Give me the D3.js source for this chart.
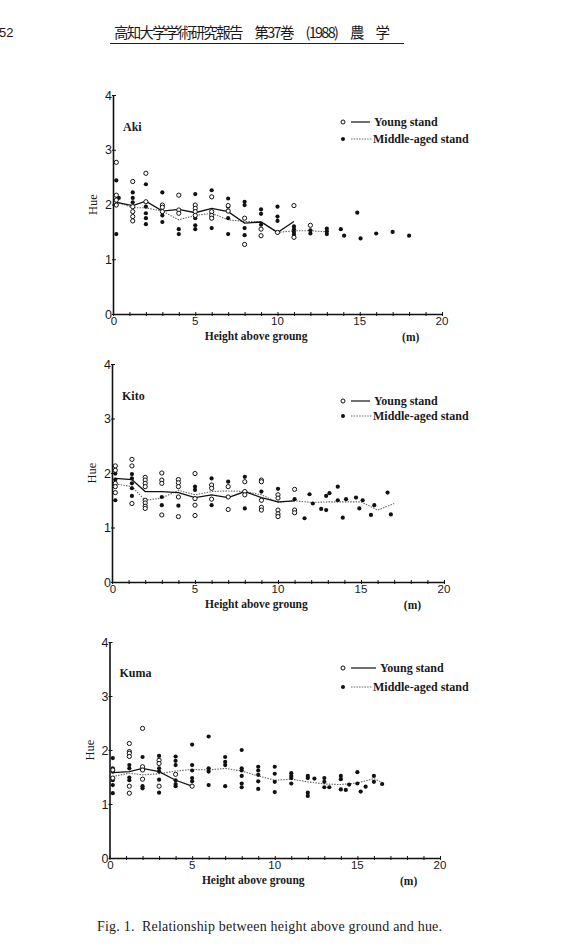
<!DOCTYPE html>
<html><head><meta charset="utf-8">
<script src="https://cdn.jsdelivr.net/npm/d3@7"></script>
<style>
body{margin:0;background:#fff;}
svg{display:block;}
text{fill:#1a1a1a;white-space:pre;}
</style></head>
<body>
<svg id="c" width="568" height="949"></svg>
<script>
// ---------- DATA ----------
const xTicks = [0,5,10,15,20];
const yTicks = [0,1,2,3,4];
const legendLabels = ["Young stand","Middle-aged stand"];
const panelNames = ["Aki","Kito","Kuma"];

// Aki
const akiYoung = [[0.2,2.77],[0.2,2.17],[0.2,2.08],[0.2,1.99],
 [1.2,2.42],[1.2,1.96],[1.2,1.87],[1.2,1.78],[1.2,1.70],
 [2,2.57],[2,2.05],[3,1.99],[3,1.95],[3,1.87],[4,2.17],[4,1.90],[4,1.84],
 [5,1.99],[5,1.93],[5,1.87],[5,1.80],[6,2.14],[6,1.87],[6,1.80],[6,1.75],
 [7,1.98],[7,1.88],[8,1.75],[8,1.27],[9,1.55],[9,1.43],[10,1.49],[11,1.98],[11,1.40],[12,1.62]];
const akiMiddle = [[0.2,2.44],[0.35,2.12],[0.2,2.00],[0.2,1.46],
 [1.2,2.22],[1.2,2.12],[1.2,2.04],[2,2.37],[2,1.96],[2,1.84],[2,1.75],[2,1.64],
 [3,2.22],[3,1.80],[3,1.68],[4,1.55],[4,1.46],[5,2.19],[5,1.75],[5,1.62],[5,1.55],
 [6,2.26],[6,1.57],[7,2.11],[7,1.96],[7,1.75],[7,1.46],[8,2.05],[8,1.99],[8,1.57],[8,1.44],
 [9,1.91],[9,1.83],[9,1.63],[10,1.96],[10,1.78],[10,1.70],[11,1.60],[11,1.55],[11,1.50],[11,1.45],
 [12,1.53],[12,1.47],[13,1.56],[13,1.51],[13,1.46],[13.85,1.55],[14.05,1.43],[14.85,1.85],
 [15.05,1.38],[16,1.47],[17,1.50],[18,1.43]];
const akiYoungMeanH = [0.2,1.2,2,3,4,5,6,7,8,9,10,11];
const akiYoungMean  = [2.04,1.98,2.06,1.88,1.91,1.85,1.93,1.87,1.66,1.68,1.49,1.69];
const akiMiddleMeanH = [0.2,1.2,2,3,4,5,6,7,8,9,10,11,12,13];
const akiMiddleMean  = [2.05,1.94,1.94,1.88,1.72,1.80,1.84,1.72,1.69,1.69,1.49,1.52,1.52,1.50];

// Kito
const kitoYoung = [[0.2,2.13],[0.2,2.05],[0.2,1.81],[0.2,1.75],[0.2,1.64],
 [1.2,2.25],[1.2,2.13],[1.2,1.44],
 [2,1.92],[2,1.87],[2,1.81],[2,1.75],[2,1.50],[2,1.45],[2,1.39],[2,1.35],
 [3,2.00],[3,1.87],[3,1.81],[3,1.23],[4,1.88],[4,1.82],[4,1.75],[4,1.56],[4,1.20],
 [5,1.99],[5,1.53],[5,1.41],[5,1.22],[6,1.78],[6,1.72],[6,1.52],[7,1.75],[7,1.56],[7,1.33],
 [8,1.84],[8,1.66],[8,1.60],[9,1.87],[9,1.84],[9,1.50],[9,1.37],[9,1.32],
 [10,1.60],[10,1.54],[10,1.32],[10,1.25],[10,1.20],[11,1.70],[11,1.32],[11,1.27]];
const kitoMiddle = [[0.2,1.99],[0.2,1.88],[0.2,1.50],
 [1.2,1.98],[1.2,1.90],[1.2,1.81],[1.2,1.72],[1.2,1.58],[3,1.56],[3,1.41],[4,1.40],
 [5,1.75],[5,1.69],[6,1.90],[6,1.41],[7,1.84],[8,1.93],[8,1.35],[9,1.66],[10,1.71],[11,1.52],
 [11.6,1.17],[11.9,1.61],[12.1,1.44],[12.6,1.34],[12.9,1.32],[12.9,1.58],[13.1,1.63],
 [13.6,1.75],[13.6,1.50],[13.9,1.18],[14.1,1.52],[14.7,1.55],[14.9,1.35],[15.1,1.50],
 [15.6,1.23],[15.8,1.41],[16.6,1.64],[16.8,1.24]];
const kitoYoungMeanH = [0.2,1.2,2,3,4,5,6,7,8,9,10,11];
const kitoYoungMean  = [1.90,1.88,1.66,1.66,1.64,1.55,1.60,1.55,1.66,1.55,1.47,1.49];
const kitoMiddleMeanH = [0.2,1.2,2,3,4,5,6,7,8,9,10,11,12,13,14,15,16,17];
const kitoMiddleMean  = [1.80,1.75,1.50,1.54,1.68,1.60,1.66,1.67,1.66,1.60,1.46,1.49,1.46,1.47,1.47,1.47,1.32,1.44];

// Kuma
const kumaYoung = [[0.2,1.63],[0.2,1.48],
 [1.2,2.12],[1.2,1.97],[1.2,1.94],[1.2,1.88],[1.2,1.33],[1.2,1.20],
 [2,2.40],[2,1.69],[2,1.63],[2,1.46],[3,1.81],[3,1.75],[3,1.33],[4,1.55],[5,1.33]];
const kumaMiddle = [[0.2,1.85],[0.2,1.66],[0.2,1.60],[0.2,1.44],[0.2,1.35],[0.2,1.20],
 [1.2,1.72],[1.2,1.66],[1.2,1.49],[1.2,1.44],[2,1.87],[2,1.33],[2,1.29],
 [3,1.89],[3,1.66],[3,1.60],[3,1.45],[3,1.21],[4,1.88],[4,1.80],[4,1.72],[4,1.44],[4,1.37],[4,1.33],
 [5,2.10],[5,1.72],[5,1.62],[5,1.48],[5,1.42],[6,2.25],[6,1.66],[6,1.60],[6,1.35],
 [7,1.87],[7,1.78],[7,1.72],[7,1.33],[8,2.00],[8,1.66],[8,1.62],[8,1.52],[8,1.38],[8,1.31],
 [9,1.69],[9,1.62],[9,1.54],[9,1.42],[9,1.28],[10,1.69],[10,1.56],[10,1.41],[10,1.22],
 [11,1.57],[11,1.52],[11,1.48],[11,1.38],[12,1.52],[12,1.48],[12,1.21],[12,1.15],[12.4,1.47],
 [13,1.48],[13,1.41],[13,1.31],[13.3,1.31],[14,1.52],[14,1.46],[14,1.27],[14.3,1.26],[14.5,1.36],
 [15,1.59],[15,1.38],[15.2,1.23],[15.5,1.32],[16,1.52],[16,1.41],[16.5,1.37]];
const kumaYoungMeanH = [0.2,1.2,2,3,4,5];
const kumaYoungMean  = [1.58,1.60,1.66,1.60,1.44,1.33];
const kumaMiddleMeanH = [0.2,1.2,2,3,4,5,6,7,8,9,10,11,12,13,14,15,16,16.5];
const kumaMiddleMean  = [1.51,1.57,1.54,1.56,1.61,1.64,1.63,1.66,1.61,1.52,1.44,1.46,1.41,1.37,1.36,1.39,1.47,1.40];

// ---------- DRAW ----------
const svg = d3.select("#c");
const serif = "'Liberation Serif','DejaVu Serif',serif";
const sans = "'Liberation Sans','DejaVu Sans',sans-serif";

// header
svg.append("text").attr("x",-1).attr("y",37).attr("font-family",sans).attr("font-size",13).text("52");
svg.append("text").attr("x",114).attr("y",38).attr("font-family","'Noto Sans CJK JP',sans-serif")
  .attr("font-size",14.5).attr("textLength",276).text("高知大学学術研究報告　第37巻　(1988)　農　学");
svg.append("line").attr("x1",110).attr("x2",404).attr("y1",43.5).attr("y2",43.5).attr("stroke","#222").attr("stroke-width",1.2);

const panels = [
 {name:panelNames[0], young:akiYoung, middle:akiMiddle, ymH:akiYoungMeanH, ym:akiYoungMean, mmH:akiMiddleMeanH, mm:akiMiddleMean,
  x0:113, x1:442, y0:314, y1:95, leg:[343,122,139], lx:374},
 {name:panelNames[1], young:kitoYoung, middle:kitoMiddle, ymH:kitoYoungMeanH, ym:kitoYoungMean, mmH:kitoMiddleMeanH, mm:kitoMiddleMean,
  x0:112, x1:444, y0:582, y1:364, leg:[343,401,416], lx:374},
 {name:panelNames[2], young:kumaYoung, middle:kumaMiddle, ymH:kumaYoungMeanH, ym:kumaYoungMean, mmH:kumaMiddleMeanH, mm:kumaMiddleMean,
  x0:109.5, x1:440, y0:858, y1:642, leg:[343,668,687], lx:380}
];

panels.forEach(p => {
  const x = d3.scaleLinear().domain([0,20]).range([p.x0,p.x1]);
  const y = d3.scaleLinear().domain([0,4]).range([p.y0,p.y1]);
  const g = svg.append("g");

  // x axis
  const xa = g.append("g").attr("transform",`translate(0,${p.y0})`)
    .call(d3.axisBottom(x).tickValues(d3.range(0,21)).tickSize(0).tickFormat(""));
  xa.select(".domain").attr("stroke","#111").attr("stroke-width",1.4);
  xa.selectAll(".tick line").attr("y1",-2).attr("y2",2).attr("stroke","#111").attr("stroke-width",1);
  g.append("g").selectAll("text").data(xTicks).join("text")
    .attr("x",d=>x(d)+(d===0?1:0)).attr("y",p.y0+10.5).attr("text-anchor","middle")
    .attr("font-family",sans).attr("font-size",11.5).attr("fill","#1a1a1a").text(d=>d);

  // y axis
  const ya = g.append("g").attr("transform",`translate(${p.x0},0)`)
    .call(d3.axisLeft(y).tickValues(yTicks).tickSize(0).tickFormat(""));
  ya.select(".domain").attr("stroke","#111").attr("stroke-width",1.6);
  ya.selectAll(".tick line").attr("x1",-1).attr("x2",3).attr("stroke","#111").attr("stroke-width",1);
  g.append("g").selectAll("text").data(yTicks).join("text")
    .attr("x",p.x0-1).attr("y",d=>y(d)+4.5).attr("text-anchor","end")
    .attr("font-family",sans).attr("font-size",12.5).text(d=>d);

  g.append("text").attr("transform",`translate(${p.x0-16},${y(2)}) rotate(-90)`).attr("text-anchor","middle")
    .attr("font-family",serif).attr("font-size",12.5).text("Hue");
  g.append("text").attr("x",p.x0+10).attr("y",y(3.4)+3).attr("font-family",serif).attr("font-size",12).attr("font-weight","bold").text(p.name);

  g.append("text").attr("x",x(8.7)).attr("y",p.y0+25.5).attr("text-anchor","middle")
    .attr("font-family",serif).attr("font-size",11.5).attr("font-weight","bold").text("Height above groung");
  g.append("text").attr("x",x(18.1)).attr("y",p.y0+27).attr("text-anchor","middle")
    .attr("font-family",serif).attr("font-size",11.5).attr("font-weight","bold").text("(m)");

  // mean lines
  const line = d3.line().x(d=>x(d[0])).y(d=>y(d[1]));
  g.append("path").datum(p.mmH.map((h,i)=>[h,p.mm[i]])).attr("d",line).attr("fill","none")
    .attr("stroke","#666").attr("stroke-width",1.1).attr("stroke-dasharray","1.5,1.2");
  g.append("path").datum(p.ymH.map((h,i)=>[h,p.ym[i]])).attr("d",line).attr("fill","none")
    .attr("stroke","#111").attr("stroke-width",1.3);

  // points
  g.append("g").selectAll("circle").data(p.middle).join("circle")
    .attr("cx",d=>x(d[0])).attr("cy",d=>y(d[1])).attr("r",2.1).attr("fill","#111");
  g.append("g").selectAll("circle").data(p.young).join("circle")
    .attr("cx",d=>x(d[0])).attr("cy",d=>y(d[1])).attr("r",2.1).attr("fill","#fff").attr("stroke","#111").attr("stroke-width",1);

  // legend
  const [lx,ly1,ly2] = p.leg;
  g.append("circle").attr("cx",lx).attr("cy",ly1).attr("r",2).attr("fill","#fff").attr("stroke","#111");
  g.append("line").attr("x1",lx+8).attr("x2",p.lx-4).attr("y1",ly1).attr("y2",ly1).attr("stroke","#111").attr("stroke-width",1.2);
  g.append("text").attr("x",p.lx).attr("y",ly1+4).attr("font-family",serif).attr("font-size",12).attr("font-weight","bold").text(legendLabels[0]);
  g.append("circle").attr("cx",lx).attr("cy",ly2).attr("r",2).attr("fill","#111");
  g.append("line").attr("x1",lx+8).attr("x2",lx+29).attr("y1",ly2).attr("y2",ly2).attr("stroke","#666").attr("stroke-width",1).attr("stroke-dasharray","1.5,1.2");
  g.append("text").attr("x",lx+30).attr("y",ly2+4).attr("font-family",serif).attr("font-size",12).attr("font-weight","bold").text(legendLabels[1]);
});

// caption
svg.append("text").attr("x",97).attr("y",931).attr("font-family",serif).attr("font-size",14).attr("textLength",345)
  .text("Fig. 1.  Relationship between height above ground and hue.");
</script>
</body></html>
